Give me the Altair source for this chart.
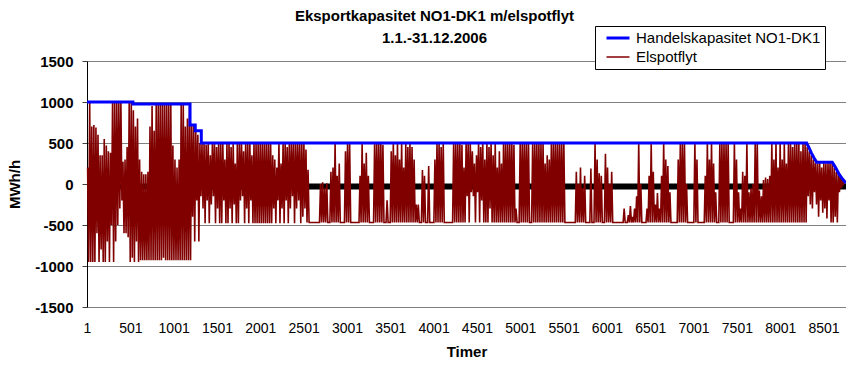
import altair as alt
import pandas as pd

CAP_LABEL = "Handelskapasitet NO1-DK1"
FLOW_LABEL = "Elspotflyt"

# Trading capacity NO1->DK1 (hour, MWh/h) breakpoints
cap_hours = [1, 531, 531, 1190, 1190, 1250, 1250, 1320, 1320, 8306, 8330, 8360, 8390, 8421, 8601, 8640, 8680, 8720, 8760]
cap_values = [1000, 1000, 975, 975, 720, 720, 650, 650, 500, 500, 450, 380, 320, 265, 265, 200, 120, 60, 12]

# Elspot flow: daily high (peak) and daily low (trough), MWh/h, read per day
jan_peak = [200, 1000, 700, 720, 690, 600, 350, 350, 550, 470,
            400, 380, 1000, 1000, 1000, 1000, 1000, 270, 300, 450,
            1000, 1000, 900, 700, 800, 300, 150, 120, 120, 150,
            700]
jan_low = [-950, -950, -950, -950, -600, -950, -800, -950, -950, -700,
           -950, -500, -950, -700, -500, -300, -200, -600, -600, -650,
           -950, -900, -950, -700, -950, -930, -930, -930, -930, -930,
           -930]
feb_peak = [950, 650, 975, 975, 975, 975, 975, 975, 975, 975,
            470, 300, 200, 300, 975, 975, 700, 800, 950, 720,
            720, 650, 600, 500, 500, 500, 480, 500]
feb_low = [-930, -930, -930, -930, -930, -900, -930, -930, -930, -930,
           -930, -930, -930, -930, -930, -930, -930, -930, -930, -400,
           -700, -200, -700, -150, -300, -480, -200, -480]
mar_peak = [350, 500, 500, 450, 500, 500, 500, 300, 500, 500,
            450, 500, 250, 500, 500, 500, 400, 500, 500, 500,
            350, 500, 500, 500, 500, 500, 500, 500, 500, 500,
            350]
mar_low = [-250, -150, -480, -300, -480, -480, -200, -480, -480, -300,
           -480, -250, -480, -480, -200, -150, -480, -300, -480, -200,
           -480, -480, -480, -480, -480, -480, -480, -480, -480, -480,
           -300]
apr_peak = [300, 200, 500, 250, 500, 500, 450, 500, 500, 500,
            500, 500, 500, 500, 500, 420, 175, -470, -470, -470,
            -470, -470, 0, 20, -50, 10, -470, 150, 200, 500]
apr_low = [-480, -200, -480, -300, -480, -200, -480, -300, -150, -480,
           -300, -200, -480, -400, -300, -470, -470, -470, -470, -470,
           -470, -470, -470, -470, -470, -470, -470, -470, -470, -470]
may_peak = [100, 250, -470, -470, 400, 500, 500, -470, -470, -470,
            -470, 100, 500, 250, 380, 100, -470, -470, 500, 500,
            500, 500, 480, -470, -200, -470, 400, 500, 350, 500,
            300]
may_low = [-470, -470, -470, -470, -470, -470, -470, -470, -470, -470,
           -470, -470, -470, -470, -470, -470, -470, -470, -470, -470,
           -470, -470, -470, -470, -470, -470, -470, -470, -470, -470,
           -470]
jun_peak = [500, 200, 500, 450, 500, 450, 300, -250, -250, -470,
            170, 100, -470, 220, -470, -470, 300, 500, 500, 450,
            500, -470, -470, -470, -470, 500, 500, 500, 500, 480]
jun_low = [-470, -470, -470, -470, -470, -470, -470, -470, -470, -470,
           -470, -470, -470, -470, -470, -470, -470, -470, -470, -470,
           -470, -470, -470, -470, -470, -470, -470, -470, -470, -470]
jul_peak = [200, 500, 500, 500, 400, 250, 350, 500, 450, 500,
            300, 500, 450, 500, 350, 500, 200, 400, 250, 500,
            500, 500, 500, 500, 480, -300, -470, 500, 500, 500,
            500]
jul_low = [-470, -150, -470, -100, -150, -470, -100, -470, -200, -470,
           -470, -470, -300, -470, -470, -470, -470, -470, -470, -470,
           -470, -470, -470, -470, -470, -470, -470, -470, -470, -470,
           -470]
aug_peak = [500, -470, 500, 500, 500, 500, 500, 500, 250, 350,
            300, 500, 500, 500, 500, 500, 500, 500, -470, -470,
            -470, -470, -470, 150, 0, 200, -50, 100, -470, -470,
            190]
aug_low = [-470, -470, -470, -470, -470, -470, -470, -470, -470, -470,
           -470, -470, -470, -470, -470, -470, -470, -470, -470, -470,
           -470, -470, -470, -470, -470, -470, -470, -470, -470, -470,
           -470]
sep_peak = [-470, 500, 300, 130, 100, -470, 370, 200, 0, 150,
            -470, -470, -470, -470, -470, -300, -470, -380, -270, -400,
            -300, -150, 500, 0, -470, -470, -300, 100, 500, 150]
sep_low = [-470, -470, -470, -470, -470, -470, -470, -470, -470, -470,
           -470, -470, -470, -470, -470, -470, -470, -470, -470, -470,
           -470, -470, -470, -470, -470, -470, -470, -470, -470, -470]
oct_peak = [-250, -110, -300, 100, 500, 300, 220, -100, -470, -470,
            -470, 300, 500, 500, 500, 0, -470, -470, -470, 500,
            300, -470, -470, -470, 100, 500, 300, 500, 250, -100,
            -470]
oct_low = [-470, -470, -470, -470, -470, -470, -470, -470, -470, -470,
           -470, -470, -470, -470, -470, -470, -470, -470, -470, -470,
           -470, -470, -470, -470, -470, -470, -470, -470, -470, -470,
           -470]
nov_peak = [500, 500, 500, 500, 500, -470, -470, 500, 300, -100,
            -300, 150, 100, 500, -100, -50, 0, 500, 500, -80,
            -150, 50, 80, 60, 100, 500, 300, 500, 200, 500]
nov_low = [-470, -470, -470, -470, -470, -470, -470, -470, -470, -470,
           -470, -470, -470, -470, -470, -470, -470, -470, -470, -470,
           -470, -470, -470, -470, -470, -470, -470, -470, -470, -470]
dec_peak = [300, 500, 250, 500, 500, 450, 500, 500, 500, 400,
            500, 500, 450, 400, 350, 300, 260, 250, 260, 200,
            260, 250, 260, 260, 250, 200, 150, 150, 100, 60,
            20]
dec_low = [-470, -470, -470, -470, -470, -470, -470, -470, -470, -470,
           -470, -470, -150, -250, -300, -100, -250, -400, -200, -350,
           -300, -420, -200, -470, -470, -400, -470, -100, -50, 0,
           10]

x_tick_values = [1, 501, 1001, 1501, 2001, 2501, 3001, 3501, 4001, 4501,
                 5001, 5501, 6001, 6501, 7001, 7501, 8001, 8501]
y_tick_values = [-1500, -1000, -500, 0, 500, 1000, 1500]

peaks = (jan_peak + feb_peak + mar_peak + apr_peak + may_peak + jun_peak +
         jul_peak + aug_peak + sep_peak + oct_peak + nov_peak + dec_peak)
lows = (jan_low + feb_low + mar_low + apr_low + may_low + jun_low +
        jul_low + aug_low + sep_low + oct_low + nov_low + dec_low)

flow_rows = []
for d, (p, l) in enumerate(zip(peaks, lows)):
    flow_rows.append({"hour": d * 24 + 8, "value": p, "serie": FLOW_LABEL})
    flow_rows.append({"hour": d * 24 + 20, "value": l, "serie": FLOW_LABEL})
flow_df = pd.DataFrame(flow_rows)

cap_df = pd.DataFrame({"hour": cap_hours, "value": cap_values,
                       "serie": CAP_LABEL, "i": list(range(len(cap_hours)))})
zero_df = pd.DataFrame({"value": [0]})

FONT = "Liberation Sans"

x_scale = alt.Scale(domain=[1, 8760], nice=False, zero=False)
y_scale = alt.Scale(domain=[-1500, 1500], nice=False)

color_scale = alt.Scale(domain=[CAP_LABEL, FLOW_LABEL], range=["#0000FF", "#800000"])
width_scale = alt.Scale(domain=[CAP_LABEL, FLOW_LABEL], range=[3, 1.6])

legend = alt.Legend(title=None, orient="none", legendX=508, legendY=-35,
                    symbolType="stroke", symbolSize=529, labelFontSize=15,
                    labelFont=FONT, labelColor="black", labelLimit=400,
                    padding=4, symbolOffset=6, labelOffset=5, rowPadding=3,
                    clipHeight=16, strokeColor="black", fillColor="white")

x_axis = alt.Axis(values=x_tick_values, grid=False, domain=False, ticks=False, tickSize=0,
                  labelExpr="'' + datum.value",
                  labelFont=FONT, labelFontSize=14, labelColor="black", labelPadding=14,
                  labelFlush=False, title="Timer", titleFont=FONT, titleFontSize=15,
                  titleFontWeight="bold", titleColor="black", titlePadding=9)
y_axis = alt.Axis(values=y_tick_values, grid=True, gridColor="#808080", gridWidth=1,
                  domain=True, domainColor="black", domainWidth=1,
                  ticks=True, tickSize=5, tickColor="#404040",
                  labelExpr="'' + datum.value", labelFont=FONT, labelFontSize=15,
                  labelFontWeight="bold", labelColor="black", labelPadding=9,
                  title="MWh/h", titleFont=FONT, titleFontSize=15,
                  titleFontWeight="bold", titleColor="black", titlePadding=12)

base_rule = alt.Chart(zero_df).mark_rule(color="black", strokeWidth=6, yOffset=2.5).encode(
    y=alt.Y("value:Q", scale=y_scale, axis=y_axis)
)

flow = alt.Chart(flow_df).mark_line(strokeJoin="miter", interpolate="linear").encode(
    x=alt.X("hour:Q", scale=x_scale, axis=x_axis),
    y=alt.Y("value:Q", scale=y_scale, axis=y_axis),
    color=alt.Color("serie:N", scale=color_scale, legend=legend),
    strokeWidth=alt.StrokeWidth("serie:N", scale=width_scale, legend=legend),
)

cap = alt.Chart(cap_df).mark_line().encode(
    x=alt.X("hour:Q", scale=x_scale, axis=x_axis),
    y=alt.Y("value:Q", scale=y_scale, axis=y_axis),
    color=alt.Color("serie:N", scale=color_scale, legend=legend),
    strokeWidth=alt.StrokeWidth("serie:N", scale=width_scale, legend=legend),
    order=alt.Order("i:Q"),
)

chart = alt.layer(base_rule, flow, cap).properties(
    width=759, height=246,
    padding={"left": 87, "top": 61, "right": 0, "bottom": 62},
    autosize=alt.AutoSizeParams(type="none"),
    background="white",
    title=alt.TitleParams(
        text="Eksportkapasitet NO1-DK1 m/elspotflyt",
        subtitle="1.1.-31.12.2006",
        anchor="middle", dx=-32, dy=34, offset=14,
        font=FONT, fontSize=15, fontWeight="bold", color="black",
        subtitleFont=FONT, subtitleFontSize=15, subtitleFontWeight="bold",
        subtitleColor="black", subtitlePadding=7,
    ),
).configure_view(stroke=None)

chart.save("out.html", embed_options={"renderer": "svg", "actions": False})
